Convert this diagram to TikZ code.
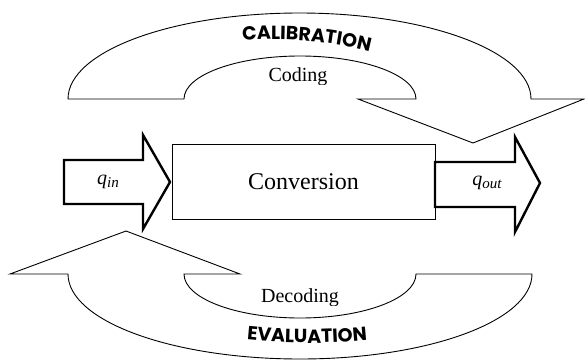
\documentclass[tikz,border=0pt]{standalone}
\usepackage{fontspec}
\setmainfont{Liberation Serif}
\newfontfamily\bandfont{Poppins}
\usetikzlibrary{decorations.text}

\begin{document}
\begin{tikzpicture}[
  x=1pt, y=1pt,
  band/.style={draw=black, line width=0.9pt, line join=miter, fill=white},
  fatarrow/.style={draw=black, line width=2.4pt, line join=miter, fill=white},
  block/.style={rectangle, draw=black, line width=0.8pt, minimum width=263pt, minimum height=75pt, font=\fontsize{24}{24}\selectfont},
  tag/.style={font=\fontsize{20}{20}\selectfont},
  looptext/.style={decorate, decoration={text along path, text align=center, text={|\bandfont\bfseries\fontsize{19}{19}\selectfont|#1}}}
]
  \useasboundingbox (0,0) rectangle (585,360);
  % calibration loop (top)
  \draw[band] (68,261) arc[start angle=180, end angle=0, x radius=231.5, y radius=86]
    -- (584,261) -- (473,217) -- (358,261) -- (416,261)
    arc[start angle=0, end angle=180, x radius=116, y radius=43] -- cycle;
  % evaluation loop (bottom)
  \draw[band] (10,86) -- (126,129) -- (240,86) -- (184,86)
    arc[start angle=180, end angle=360, x radius=116, y radius=44]
    -- (532,86) arc[start angle=0, end angle=-180, x radius=232, y radius=85] -- cycle;
  \path[looptext=CALIBRATION] (275,-64.5) ++(97:385) arc[start angle=97, end angle=73.6, radius=385];
  \path[looptext=EVALUATION] (307,617) ++(262:600) arc[start angle=262, end angle=278, radius=600];
  \begin{scope}
    \clip (180,276) rectangle (420,330);
    \node[tag, anchor=base] (coding) at (298,279) {Coding};
  \end{scope}
  \begin{scope}
    \clip (180,55) rectangle (420,100);
    \node[tag, anchor=base] (decoding) at (300,58) {Decoding};
  \end{scope}
  % conversion block and flows
  \node[block] (conv) at (303.5,178.5) {Conversion};
  \draw[fatarrow] (64,200) -- (143,200) -- (143,225) -- (170,178) -- (143,131) -- (143,156) -- (64,156) -- cycle;
  \draw[fatarrow] (435,198) -- (515,198) -- (515,223) -- (540,177) -- (515,128) -- (515,153) -- (435,153) -- cycle;
  \node[tag] (qin) at (108,178) {\itshape q\raisebox{-3pt}{\fontsize{15}{15}\selectfont in}};
  \node[tag] (qout) at (487,177) {\itshape q\raisebox{-3pt}{\fontsize{15}{15}\selectfont out}};
\end{tikzpicture}
\end{document}
